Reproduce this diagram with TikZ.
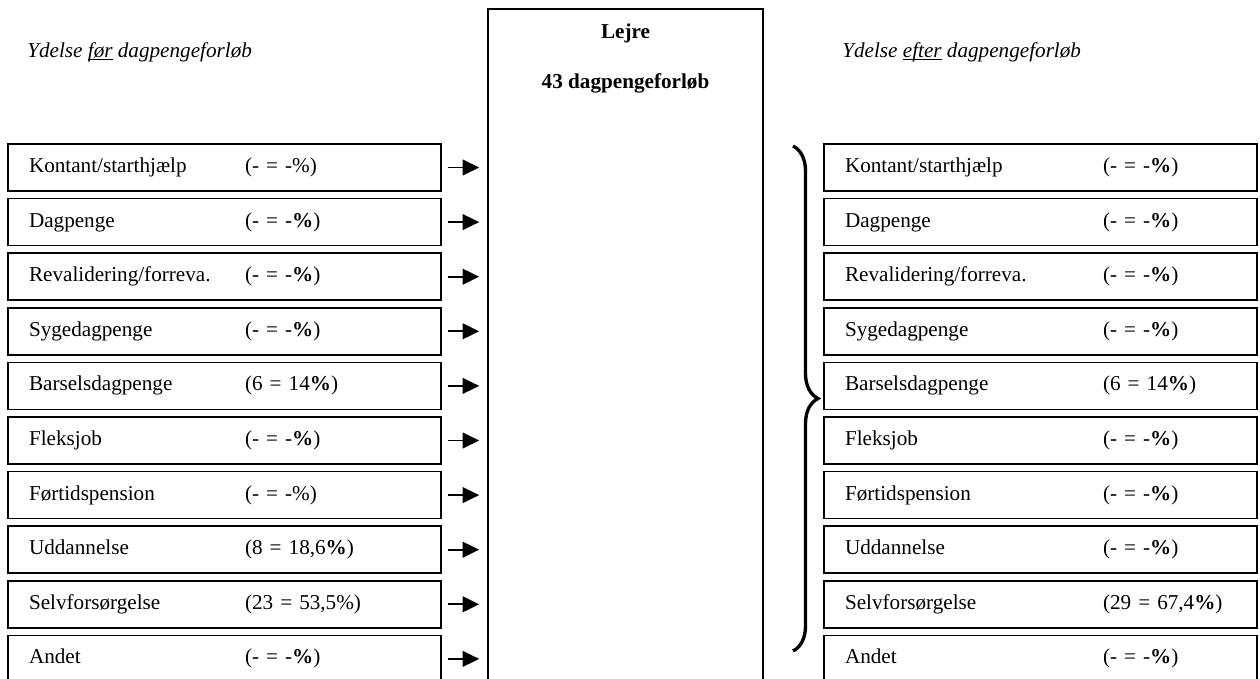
\documentclass[tikz,border=0pt]{standalone}
\usepackage{fontspec}
\setmainfont{Liberation Serif}
\usetikzlibrary{positioning}
\usetikzlibrary{arrows.meta}
\usetikzlibrary{decorations.pathreplacing}
% label and share inside one box
\newcommand{\leftrow}[2]{\makebox[129.6pt][l]{#1}#2}
\newcommand{\rightrow}[2]{\makebox[154.8pt][l]{#1}#2}
% underline just below the baseline
\newcommand{\undr}[1]{\setbox0\hbox{#1}\rlap{\rule[-1.6pt]{\wd0}{0.55pt}}\box0\relax}
\tikzset {
  x=0.6pt, y=-0.6pt,
  % benefit boxes on both sides
  benefit/.style = {draw, rectangle, line width=1pt, minimum width=259.8pt,
    minimum height=28.2pt, inner xsep=12.6pt, text width=234.6pt, align=left,
    font=\fontsize{12.7}{15}\selectfont},
  % the municipality box in the middle
  hubbox/.style = {draw, rectangle, line width=1pt, minimum width=165pt, minimum height=414.6pt},
  hubtext/.style = {font=\fontsize{12.7}{15}\selectfont\bfseries},
  heading/.style = {anchor=west, inner sep=0pt, font=\fontsize{12.7}{15}\selectfont\itshape},
  % arrows into the middle box
  flow/.style = {line width=1.1pt, -{Triangle[length=10pt, width=9.5pt]}, shorten <=3.6pt, shorten >=4.8pt},
  bracket/.style = {line width=2pt, decorate, decoration={brace, amplitude=15pt}},
}
\begin{document}
\begin{tikzpicture}
      \useasboundingbox (0, 0) rectangle (1260, 679);
      \clip (0, 0) rectangle (1260, 679);

      \node[heading] (before) at (27, 52) {Ydelse \undr{før} dagpengeforløb};
      \node[heading] (after) at (842, 52) {Ydelse \undr{efter} dagpengeforløb};

      \node[hubbox] (hub) at (625.5, 354.5) {};
      \node[hubtext] (town) at (625.5, 33) {Lejre};
      \node[hubtext] (count) at (625.5, 83) {43 dagpengeforløb};

      \node[benefit] (l1)  at (224.5, 167.5) {\leftrow{Kontant/starthjælp}{(- = -\%)}};
      \node[benefit] (l2)  at (224.5, 222.1) {\leftrow{Dagpenge}{(- = -\textbf{\%})}};
      \node[benefit] (l3)  at (224.5, 276.7) {\leftrow{Revalidering/forreva.}{(- = -\textbf{\%})}};
      \node[benefit] (l4)  at (224.5, 331.3) {\leftrow{Sygedagpenge}{(- = -\textbf{\%})}};
      \node[benefit] (l5)  at (224.5, 385.9) {\leftrow{Barselsdagpenge}{(6 = 14\textbf{\%})}};
      \node[benefit] (l6)  at (224.5, 440.5) {\leftrow{Fleksjob}{(- = -\textbf{\%})}};
      \node[benefit] (l7)  at (224.5, 495.1) {\leftrow{Førtidspension}{(- = -\%)}};
      \node[benefit] (l8)  at (224.5, 549.7) {\leftrow{Uddannelse}{(8 = 18,6\textbf{\%})}};
      \node[benefit] (l9)  at (224.5, 604.3) {\leftrow{Selvforsørgelse}{(23 = 53,5\%)}};
      \node[benefit] (l10) at (224.5, 658.9) {\leftrow{Andet}{(- = -\textbf{\%})}};

      \node[benefit] (r1)  at (1040.5, 167.5) {\rightrow{Kontant/starthjælp}{(- = -\textbf{\%})}};
      \node[benefit] (r2)  at (1040.5, 222.1) {\rightrow{Dagpenge}{(- = -\textbf{\%})}};
      \node[benefit] (r3)  at (1040.5, 276.7) {\rightrow{Revalidering/forreva.}{(- = -\textbf{\%})}};
      \node[benefit] (r4)  at (1040.5, 331.3) {\rightrow{Sygedagpenge}{(- = -\textbf{\%})}};
      \node[benefit] (r5)  at (1040.5, 385.9) {\rightrow{Barselsdagpenge}{(6 = 14\textbf{\%})}};
      \node[benefit] (r6)  at (1040.5, 440.5) {\rightrow{Fleksjob}{(- = -\textbf{\%})}};
      \node[benefit] (r7)  at (1040.5, 495.1) {\rightrow{Førtidspension}{(- = -\textbf{\%})}};
      \node[benefit] (r8)  at (1040.5, 549.7) {\rightrow{Uddannelse}{(- = -\textbf{\%})}};
      \node[benefit] (r9)  at (1040.5, 604.3) {\rightrow{Selvforsørgelse}{(29 = 67,4\textbf{\%})}};
      \node[benefit] (r10) at (1040.5, 658.9) {\rightrow{Andet}{(- = -\textbf{\%})}};

      \draw [flow] (l1.east) -- (l1.east -| hub.west);
      \draw [flow] (l2.east) -- (l2.east -| hub.west);
      \draw [flow] (l3.east) -- (l3.east -| hub.west);
      \draw [flow] (l4.east) -- (l4.east -| hub.west);
      \draw [flow] (l5.east) -- (l5.east -| hub.west);
      \draw [flow] (l6.east) -- (l6.east -| hub.west);
      \draw [flow] (l7.east) -- (l7.east -| hub.west);
      \draw [flow] (l8.east) -- (l8.east -| hub.west);
      \draw [flow] (l9.east) -- (l9.east -| hub.west);
      \draw [flow] (l10.east) -- (l10.east -| hub.west);

      % brace over the outcome boxes
      \draw [bracket] (793, 146) -- (793, 651);
    \end{tikzpicture}
\end{document}
